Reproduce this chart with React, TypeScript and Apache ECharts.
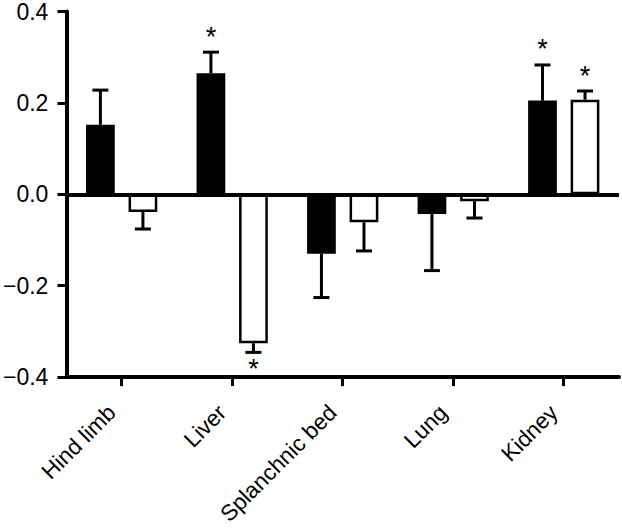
import React, { useEffect, useRef } from "react";
import * as echarts from "echarts";

const categories = ["Hind limb", "Liver", "Splanchnic bed", "Lung", "Kidney"];
const blackValues = [0.152, 0.265, -0.13, -0.043, 0.205];
const blackErrEnd = [0.228, 0.311, -0.226, -0.167, 0.283];
const blackSig = [0, 1, 0, 0, 1];
const whiteValues = [-0.039, -0.326, -0.061, -0.015, 0.207];
const whiteErrEnd = [-0.076, -0.346, -0.124, -0.052, 0.226];
const whiteSig = [0, 1, 0, 0, 1];
const yTicks = { min: -0.4, max: 0.4, interval: 0.2 };

const BAR_W = 0.26;
const BAR_GAP = 0.48;
const FONT = "Liberation Sans, Arial, sans-serif";

export default function App() {
  const ref = useRef<HTMLDivElement>(null);
  useEffect(() => {
    if (!ref.current) return;
    const chart = echarts.init(ref.current, null, { renderer: "svg" });
    const errData: any[] = [];
    categories.forEach((_, i) => {
      errData.push([i, blackValues[i], blackErrEnd[i], 0, blackSig[i]]);
      errData.push([i, whiteValues[i], whiteErrEnd[i], 1, whiteSig[i]]);
    });
    chart.setOption({
      animation: false,
      grid: { left: 65, right: 3, top: 10, bottom: 150, containLabel: false },
      xAxis: {
        type: "category",
        data: categories,
        boundaryGap: true,
        axisLine: { onZero: false, lineStyle: { color: "#000", width: 4 } },
        axisTick: { show: true, length: 9, lineStyle: { color: "#000", width: 3 }, alignWithLabel: true },
        axisLabel: {
          rotate: 45,
          fontSize: 22.5,
          color: "#000",
          fontFamily: FONT,
          margin: 22,
          padding: [0, 14, 0, 0],
          interval: 0,
        },
      },
      yAxis: {
        type: "value",
        min: yTicks.min,
        max: yTicks.max,
        interval: yTicks.interval,
        splitLine: { show: false },
        axisLine: { show: true, lineStyle: { color: "#000", width: 4 } },
        axisTick: { show: true, length: 9, lineStyle: { color: "#000", width: 3 } },
        axisLabel: {
          fontSize: 23,
          color: "#000",
          fontFamily: FONT,
          margin: 18,
          formatter: (v: number) => (v < 0 ? "\u2212" + Math.abs(v).toFixed(1) : v.toFixed(1)),
        },
      },
      series: [
        {
          type: "bar",
          data: blackValues,
          barWidth: BAR_W * 100 + "%",
          barGap: BAR_GAP * 100 + "%",
          itemStyle: { color: "#000", borderColor: "#000", borderWidth: 2 },
          markLine: {
            silent: true,
            symbol: "none",
            label: { show: false },
            lineStyle: { color: "#000", width: 4, type: "solid" },
            data: [{ yAxis: 0 }],
          },
        },
        {
          type: "bar",
          data: whiteValues,
          barWidth: BAR_W * 100 + "%",
          barGap: BAR_GAP * 100 + "%",
          itemStyle: { color: "#fff", borderColor: "#000", borderWidth: 2.5 },
        },
        {
          type: "custom",
          data: errData,
          z: 5,
          renderItem: (params: any, api: any) => {
            const i = api.value(0);
            const v = api.value(1);
            const e = api.value(2);
            const g = api.value(3);
            const sig = api.value(4);
            const band = api.size([1, 0])[0];
            const off = (g === 0 ? -1 : 1) * band * (BAR_W + BAR_W * BAR_GAP) / 2;
            const p0 = api.coord([i, v]);
            const p1 = api.coord([i, e]);
            const x = p0[0] + off;
            const st = { stroke: "#000", lineWidth: 3 };
            const children: any[] = [
              { type: "line", shape: { x1: x, y1: p0[1], x2: x, y2: p1[1] }, style: st },
              { type: "line", shape: { x1: x - 8, y1: p1[1], x2: x + 8, y2: p1[1] }, style: st },
            ];
            if (sig) {
              children.push({
                type: "text",
                style: {
                  text: "*",
                  x,
                  y: e > 0 ? p1[1] - 2 : p1[1] + 3,
                  textAlign: "center",
                  textVerticalAlign: e > 0 ? "bottom" : "top",
                  fontSize: 27,
                  fontFamily: FONT,
                  fill: "#000",
                },
              });
            }
            return { type: "group", children };
          },
        },
      ],
    });
    return () => chart.dispose();
  }, []);
  return (
    <div
      ref={ref}
      style={{ position: "absolute", left: 0, top: 0, width: 622, height: 528 }}
    />
  );
}
